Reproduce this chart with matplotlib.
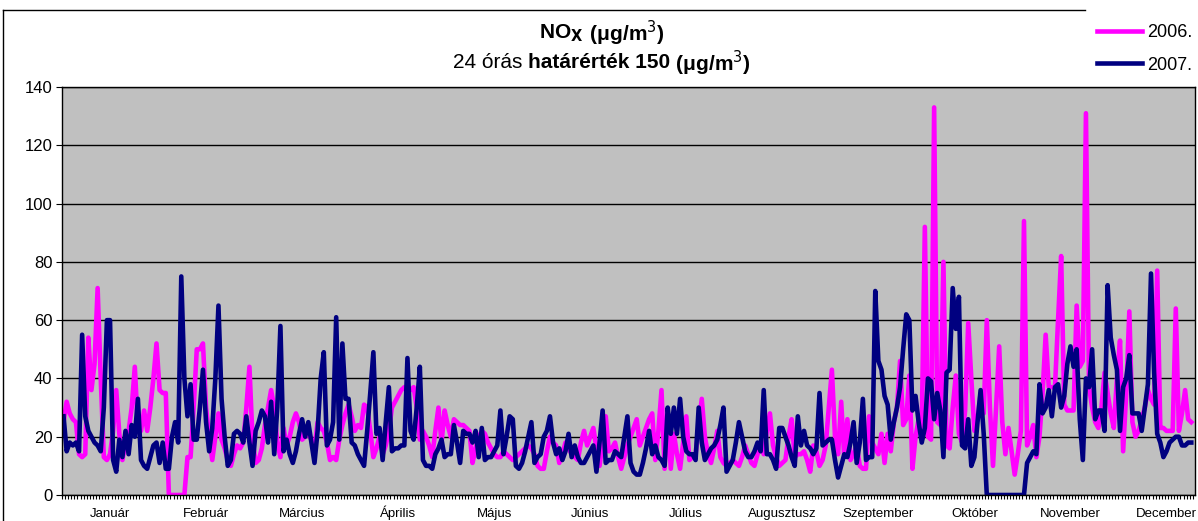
import numpy as np
import matplotlib.pyplot as plt
from matplotlib.lines import Line2D

plt.rcParams['font.family'] = ['Liberation Sans', 'DejaVu Sans']

months = ['Január', 'Február', 'Március', 'Április', 'Május', 'Június',
          'Július', 'Augusztusz', 'Szeptember', 'Október', 'November', 'December']

# 2006 daily NOx values (µg/m3)
jan06 = [25, 32, 28, 26, 25, 14, 13, 14, 54, 36, 45, 71, 40, 13, 12, 14, 22, 36, 21, 12,
         18, 22, 30, 44, 23, 22, 29, 22, 30, 40, 52]
feb06 = [36, 35, 35, 0, 0, 0, 0, 0, 0, 13, 13, 30, 50, 50, 52, 30, 20, 12, 20, 28,
         19, 16, 12, 10, 14, 17, 16, 18]
mar06 = [30, 44, 19, 11, 12, 16, 24, 30, 36, 30, 18, 13, 23, 17, 20, 25, 28, 25, 19, 20,
         21, 19, 16, 25, 23, 22, 18, 12, 13, 12, 19]
apr06 = [24, 28, 31, 27, 22, 24, 23, 31, 30, 22, 13, 16, 20, 14, 17, 22, 30, 32, 34, 36,
         37, 37, 36, 37, 30, 19, 22, 20, 17, 13]
may06 = [22, 30, 18, 29, 24, 20, 26, 25, 24, 24, 23, 22, 11, 16, 20, 22, 21, 18, 16, 14,
         13, 13, 15, 14, 13, 12, 13, 14, 15, 16, 17]
jun06 = [16, 14, 10, 9, 9, 15, 20, 18, 17, 11, 14, 18, 16, 14, 13, 12, 18, 22, 17, 20,
         23, 16, 10, 18, 27, 15, 16, 18, 13, 9]
jul06 = [13, 17, 20, 23, 26, 17, 20, 23, 26, 28, 12, 22, 36, 9, 28, 9, 21, 14, 9, 18,
         27, 12, 13, 14, 24, 33, 20, 14, 11, 16, 22]
aug06 = [13, 11, 10, 11, 12, 11, 10, 13, 17, 14, 11, 10, 14, 17, 14, 22, 28, 17, 13, 10,
         11, 12, 20, 26, 13, 14, 14, 15, 12, 8, 17]
sep06 = [15, 10, 12, 17, 30, 43, 20, 14, 32, 13, 26, 12, 14, 17, 10, 9, 9, 27, 18, 16,
         14, 21, 11, 21, 15, 25, 30, 46, 24, 26]
oct06 = [41, 9, 20, 26, 23, 92, 20, 19, 133, 25, 24, 80, 17, 16, 30, 41, 21, 18, 29, 59,
         40, 22, 26, 35, 28, 60, 30, 10, 30, 51, 25]
nov06 = [14, 23, 15, 7, 14, 22, 94, 17, 20, 24, 13, 20, 35, 55, 37, 37, 37, 60, 82, 31,
         29, 29, 29, 65, 44, 46, 131, 37, 30, 25]
dec06 = [23, 30, 42, 35, 28, 23, 40, 53, 15, 35, 63, 25, 20, 22, 26, 30, 36, 33, 31, 77,
         23, 23, 22, 22, 22, 64, 22, 28, 36, 26, 25]

# 2007 daily NOx values
jan07 = [27, 15, 18, 17, 18, 15, 55, 27, 22, 20, 18, 17, 15, 30, 60, 60, 12, 8, 19, 13,
         22, 14, 24, 20, 33, 12, 10, 9, 13, 17, 18]
feb07 = [11, 18, 9, 9, 20, 25, 18, 75, 40, 27, 38, 19, 19, 30, 43, 25, 15, 23, 40, 65,
         33, 20, 10, 12, 21, 22, 21, 18]
mar07 = [27, 18, 10, 22, 25, 29, 27, 18, 32, 14, 30, 58, 15, 19, 14, 11, 15, 21, 26, 20,
         25, 18, 11, 22, 40, 49, 17, 19, 25, 61, 19]
apr07 = [52, 33, 33, 18, 17, 14, 12, 10, 22, 35, 49, 21, 23, 12, 25, 37, 15, 16, 16, 17,
         17, 47, 22, 19, 30, 44, 12, 10, 10, 9]
may07 = [14, 16, 19, 13, 14, 14, 24, 18, 11, 22, 21, 21, 18, 22, 13, 23, 12, 13, 13, 15,
         17, 29, 14, 20, 27, 26, 10, 9, 11, 15, 20]
jun07 = [25, 11, 13, 14, 20, 22, 27, 18, 14, 16, 12, 15, 21, 13, 17, 13, 11, 11, 13, 15,
         17, 8, 18, 29, 11, 12, 12, 15, 14, 13]
jul07 = [20, 27, 11, 8, 7, 7, 11, 16, 22, 14, 17, 13, 12, 10, 30, 21, 30, 21, 33, 20,
         15, 14, 14, 12, 30, 18, 12, 14, 16, 17, 19]
aug07 = [24, 30, 8, 10, 12, 18, 25, 20, 15, 13, 13, 15, 18, 15, 36, 14, 14, 12, 9, 23,
         23, 20, 17, 13, 10, 27, 17, 22, 17, 16, 14]
sep07 = [16, 35, 17, 18, 19, 19, 12, 6, 10, 14, 13, 18, 25, 11, 18, 33, 12, 13, 13, 70,
         46, 43, 34, 31, 19, 25, 30, 37, 50, 62]
oct07 = [60, 29, 34, 25, 18, 23, 40, 39, 26, 35, 29, 13, 42, 43, 71, 57, 68, 17, 16, 26,
         10, 13, 25, 36, 21, 0, 0, 0, 0, 0, 0]
nov07 = [0, 0, 0, 0, 0, 0, 0, 11, 13, 15, 14, 38, 28, 30, 36, 27, 37, 38, 30, 34,
         45, 51, 44, 50, 26, 12, 40, 37, 50, 26]
dec07 = [29, 29, 22, 72, 54, 48, 43, 22, 37, 40, 48, 28, 28, 28, 22, 30, 38, 76, 42, 21,
         18, 13, 15, 18, 19, 20, 20, 17, 17, 18, 18]

nox_2006 = np.concatenate([jan06, feb06, mar06, apr06, may06, jun06,
                           jul06, aug06, sep06, oct06, nov06, dec06])
nox_2007 = np.concatenate([jan07, feb07, mar07, apr07, may07, jun07,
                           jul07, aug07, sep07, oct07, nov07, dec07])

W, H = 1198, 521
fig = plt.figure(figsize=(W/100, H/100), dpi=100)
ax = fig.add_axes([62/W, (H-495)/H, (1195-62)/W, (495-87)/H])
ax.set_facecolor('#C0C0C0')

ax.plot(np.arange(len(nox_2006)), nox_2006, color='#FF00FF', lw=3.3, label='2006.')
ax.plot(np.arange(len(nox_2007)), nox_2007, color='#000080', lw=3.3, label='2007.')

ax.set_xlim(-0.3, 365.2)
ax.set_ylim(0, 140)
ax.set_yticks(range(0, 141, 20))
ax.tick_params(axis='y', labelsize=12, length=4, pad=3)
ax.grid(axis='y', color='black', lw=1)
ax.set_axisbelow(True)

ax.set_xticks([15 + 31*k for k in range(12)], months, fontsize=9.5)
ax.tick_params(axis='x', which='major', length=0, pad=15.5)
for lab in ax.get_xticklabels():
    lab.set_va('baseline')
ax.set_xticks(np.arange(-0.5, 365, 1), minor=True)
ax.tick_params(axis='x', which='minor', length=3, width=0.8)
for s in ax.spines.values():
    s.set_color('black')
    s.set_linewidth(1)

# outer chart border (top and left visible)
fig.add_artist(Line2D([3/W, 3/W], [0, 1-10/H], color='black', lw=1))
fig.add_artist(Line2D([3/W, 1085/W], [1-10/H, 1-10/H], color='black', lw=1))

# legend
fig.legend(loc='center left', bbox_to_anchor=(1090/W, 1-49/H), frameon=False,
           handlelength=2.5, labelspacing=0.85, fontsize=13, handletextpad=0.25,
           borderaxespad=0)


def draw_parts(y, parts, size, xc=602):
    renderer = fig.canvas.get_renderer()
    texts = [fig.text(0, 1-y/H, s, fontsize=size, fontweight=w, va='center', ha='left')
             for s, w in parts]
    widths = [t.get_window_extent(renderer).width for t in texts]
    x = xc - sum(widths)/2
    for t, wd in zip(texts, widths):
        t.set_x(x/W)
        x += wd


draw_parts(33, [('NO$_\\mathbf{X}$', 'bold'), (' (μg/m$^3$)', 'bold')], 15)
draw_parts(63, [('24 órás ', 'normal'), ('határérték 150', 'bold'),
                (' (μg/m$^3$)', 'bold')], 15)

fig.savefig('out.png', dpi=100)
